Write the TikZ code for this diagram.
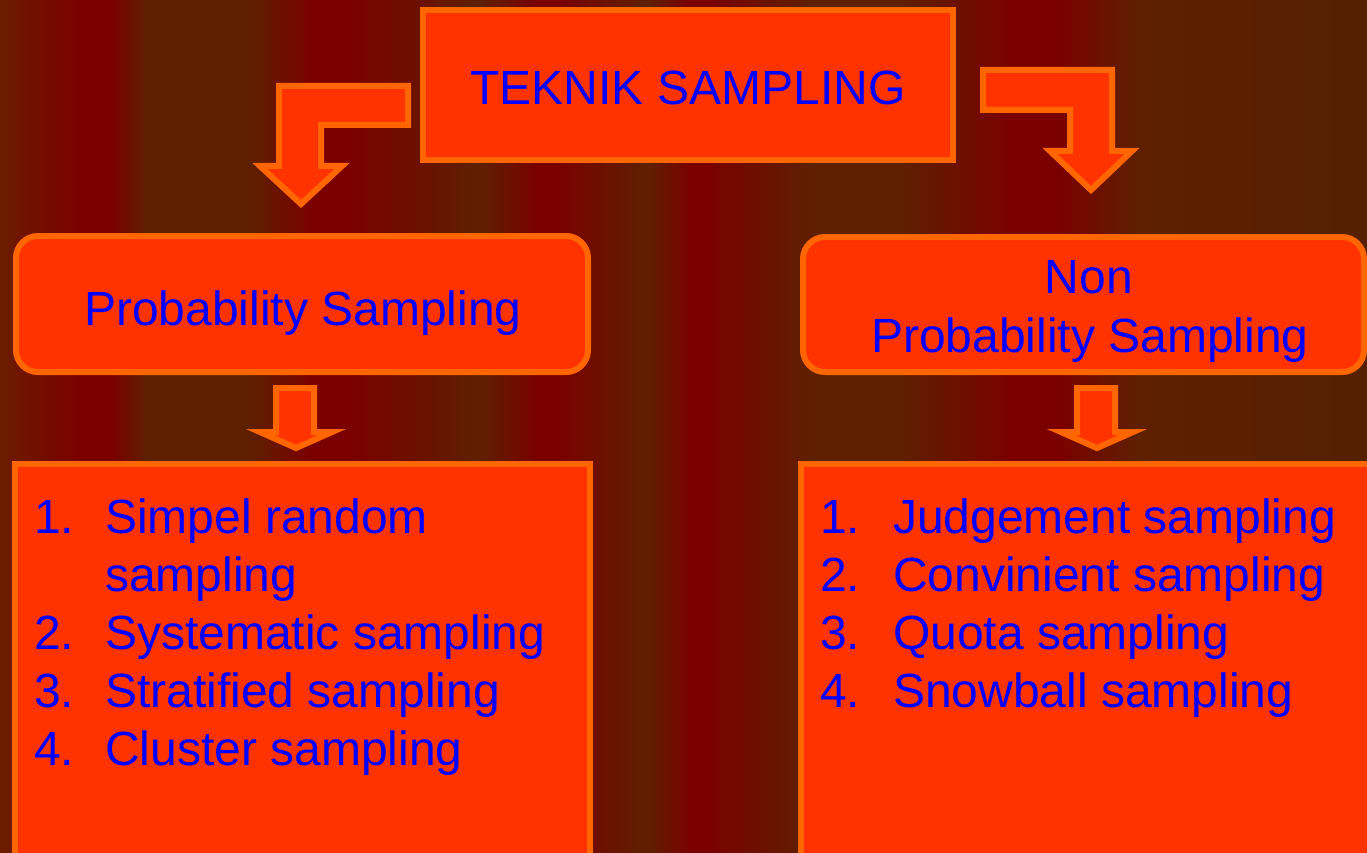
\documentclass[tikz,border=0pt]{standalone}
\usepackage{fontspec}
\setmainfont{Liberation Sans}
\definecolor{bgdeep}{RGB}{123,0,0}
\definecolor{bgbrown}{RGB}{94,32,0}
\definecolor{bgrust}{RGB}{107,28,0}
\definecolor{bgred}{RGB}{122,16,0}
\definecolor{bgdark}{RGB}{85,32,0}
\definecolor{boxfill}{RGB}{255,51,0}
\definecolor{boxedge}{RGB}{255,102,0}
\definecolor{txtblue}{RGB}{0,0,255}
\tikzset{
  panel/.style={draw=boxedge, fill=boxfill, line width=6pt, inner sep=0pt},
  roundpanel/.style={panel, rounded corners=22pt},
  blockarrow/.style={draw=boxedge, fill=boxfill, line width=6pt, line join=miter},
  txt/.style={text=txtblue, font=\fontsize{48}{58}\selectfont, inner sep=0pt, anchor=base},
  item/.style={txt, anchor=base west},
}
\begin{document}
\begin{tikzpicture}[x=1pt,y=-1pt]
\useasboundingbox (0,0) rectangle (1367,853);
\clip (0,0) rectangle (1367,853);
% striped background
\foreach \a/\b/\c/\d in {0/80/bgrust/bgdeep, 80/112/bgdeep/bgdeep, 112/147/bgdeep/bgbrown,
  147/250/bgbrown/bgbrown, 250/312/bgbrown/bgdeep, 312/347/bgdeep/bgdeep,
  347/480/bgdeep/bgbrown, 480/539/bgbrown/bgdeep, 539/556/bgdeep/bgdeep,
  556/647/bgdeep/bgbrown, 647/690/bgbrown/bgdeep, 690/704/bgdeep/bgdeep,
  704/813/bgdeep/bgbrown, 813/900/bgbrown/bgbrown, 900/1013/bgbrown/bgdeep,
  1013/1056/bgdeep/bgdeep, 1056/1140/bgdeep/bgbrown, 1140/1367/bgbrown/bgdark}
  \shade[left color=\c, right color=\d] (\a-0.5,-1) rectangle (\b+0.5,854);

% boxes
\node[panel, minimum width=530pt, minimum height=150pt] (top) at (688,85) {};
\node[roundpanel, minimum width=572pt, minimum height=136pt] (prob) at (302,304) {};
\node[roundpanel, minimum width=561pt, minimum height=135pt] (nonprob) at (1083.5,304.5) {};
\node[panel, minimum width=575pt, minimum height=416pt] (problist) at (302.5,672) {};
\node[panel, minimum width=589pt, minimum height=416pt] (nonlist) at (1095.5,672) {};

% block arrows
\draw[blockarrow] (279,86) -- (408,86) -- (408,125) -- (321,125) -- (321,166)
  -- (342,166) -- (301,204) -- (260,166) -- (279,166) -- cycle;
\draw[blockarrow] (983,70) -- (1112,70) -- (1112,151) -- (1132,151) -- (1091,190)
  -- (1050,151) -- (1070,151) -- (1070,110) -- (983,110) -- cycle;
\draw[blockarrow] (276,388) -- (314,388) -- (314,432) -- (332,432) -- (296,448)
  -- (260,432) -- (276,432) -- cycle;
\draw[blockarrow] (1077,388) -- (1115,388) -- (1115,432) -- (1133,432) -- (1097,448)
  -- (1061,432) -- (1077,432) -- cycle;

% titles
\node[txt] (ttop) at (688,105) {TEKNIK SAMPLING};
\node[txt] (tprob) at (303,325) {Probability Sampling};
\node[txt] (tnon1) at (1089,293) {Non};
\node[txt] (tnon2) at (1090,352) {Probability Sampling};

% probability list
\node[item] (p1n) at (34,533) {1.};
\node[item] (p1) at (105,533) {Simpel random};
\node[item] (p1b) at (105,591) {sampling};
\node[item] (p2n) at (34,649) {2.};
\node[item] (p2) at (105,649) {Systematic sampling};
\node[item] (p3n) at (34,707) {3.};
\node[item] (p3) at (105,707) {Stratified sampling};
\node[item] (p4n) at (34,765) {4.};
\node[item] (p4) at (105,765) {Cluster sampling};

% non-probability list
\node[item] (n1n) at (820,533) {1.};
\node[item] (n1) at (893,533) {Judgement sampling};
\node[item] (n2n) at (820,591) {2.};
\node[item] (n2) at (893,591) {Convinient sampling};
\node[item] (n3n) at (820,649) {3.};
\node[item] (n3) at (893,649) {Quota sampling};
\node[item] (n4n) at (820,707) {4.};
\node[item] (n4) at (893,707) {Snowball sampling};
\end{tikzpicture}
\end{document}
